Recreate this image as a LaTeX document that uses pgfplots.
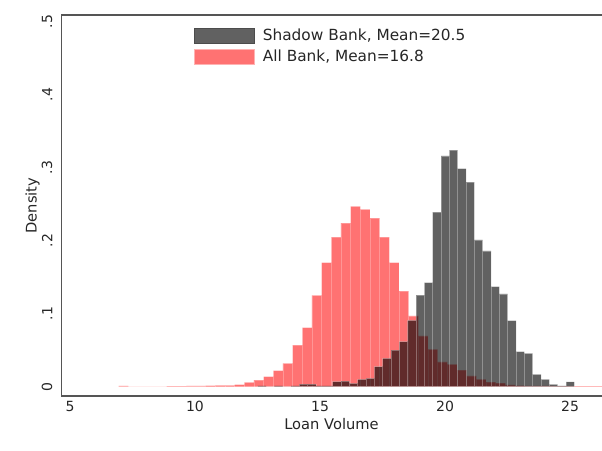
\documentclass[border=0pt]{standalone}
\usepackage{pgfplots}
\pgfplotsset{compat=1.18}
\usepackage{pgfplotstable}
\usepackage{fontspec}
\setmainfont{DejaVu Sans}
\definecolor{redbar}{HTML}{FF7272}
\definecolor{axgray}{HTML}{555555}
\pgfplotstableread{
x y
6.944 0.001
7.331 0
7.717 0
8.104 0
8.491 0
8.877 0.0008
9.264 0.0008
9.651 0.001
10.037 0.0012
10.424 0.0015
10.811 0.0018
11.197 0.002
11.584 0.003
11.971 0.006
12.357 0.009
12.744 0.014
13.131 0.022
13.517 0.032
13.904 0.057
14.291 0.081
14.677 0.125
15.064 0.170
15.451 0.205
15.837 0.224
16.224 0.247
16.611 0.243
16.997 0.231
17.384 0.205
17.771 0.170
18.157 0.131
18.544 0.097
18.931 0.0695
19.317 0.051
19.704 0.034
20.091 0.0307
20.477 0.0229
20.864 0.015
21.251 0.010
21.637 0.0064
22.024 0.0048
22.411 0.0025
22.797 0.0015
23.184 0.0012
23.571 0.001
23.957 0.001
24.344 0.0008
24.731 0.0008
25.117 0.0008
25.504 0.0008
25.891 0.0008
26.277 0.0008
}\allbank
\pgfplotstableread{
x y
12.508 0.001
12.841 0
13.175 0.001
13.508 0
13.841 0.001
14.175 0.0037
14.508 0.0037
14.841 0.001
15.175 0.001
15.508 0.0069
15.841 0.0078
16.175 0.0046
16.508 0.0101
16.841 0.0115
17.175 0.0274
17.508 0.0388
17.841 0.0502
18.175 0.0616
18.508 0.091
18.841 0.1256
19.175 0.1425
19.508 0.239
19.841 0.316
20.175 0.324
20.508 0.2986
20.841 0.280
21.175 0.201
21.508 0.186
21.841 0.137
22.175 0.127
22.508 0.0904
22.841 0.048
23.175 0.0457
23.508 0.017
23.841 0.010
24.175 0.0033
24.508 0.001
24.841 0.0068
25.175 0.0068
}\shadowbank
\begin{document}
\begin{tikzpicture}
\path[use as bounding box] (0pt,0pt) rectangle (451.5pt,337.5pt);
\begin{axis}[
  at={(45.75pt,40.5pt)}, anchor=south west,
  scale only axis, width=405.75pt, height=285.75pt,
  xmin=4.64, xmax=26.28, ymin=-0.0127, ymax=0.509,
  axis line style={draw=none},
  major tick length=0pt,
  xtick={5,10,15,20,25},
  ytick={0,0.1,0.2,0.3,0.4,0.5},
  yticklabels={0,.1,.2,.3,.4,.5},
  /pgf/number format/assume math mode=true,
  ticklabel style={font=\fontsize{10.5}{12}\selectfont, text=black!85},
  yticklabel style={rotate=90, anchor=south, inner sep=1pt, yshift=5.25pt},
  xticklabel style={anchor=north, inner sep=1pt, yshift=-3pt},
  xlabel={Loan Volume}, ylabel={Density},
  label style={font=\fontsize{11}{13}\selectfont, text=black!85},
  xlabel style={yshift=0pt},
  ylabel style={yshift=-3pt},
  legend style={draw=none, fill=none, at={(0.246,0.972)}, anchor=north west,
    font=\fontsize{11.5}{13}\selectfont, text=black!85, row sep=2pt, column sep=4pt, inner sep=0pt},
  legend cell align=left,
]
\addplot[ybar interval, fill=redbar, draw=white, draw opacity=0.25, line width=0.3pt, forget plot] table[x=x,y=y] {\allbank};
\addplot[ybar interval, fill=black, fill opacity=0.62, draw=white, draw opacity=0.3, line width=0.4pt, forget plot] table[x=x,y=y] {\shadowbank};
\addlegendimage{legend image code/.code={\draw[fill=black!62, draw=black!70] (0pt,-5.6pt) rectangle (45pt,5.6pt);}}
\addlegendentry{Shadow Bank, Mean=20.5}
\addlegendimage{legend image code/.code={\draw[fill=redbar, draw=red!30] (0pt,-5.6pt) rectangle (45pt,5.6pt);}}
\addlegendentry{All Bank, Mean=16.8}
\draw[axgray, line width=1pt] (rel axis cs:1.2,1) -- (rel axis cs:0,1) -- (rel axis cs:0,0) -- (rel axis cs:1.2,0);
\end{axis}
\end{tikzpicture}
\end{document}
